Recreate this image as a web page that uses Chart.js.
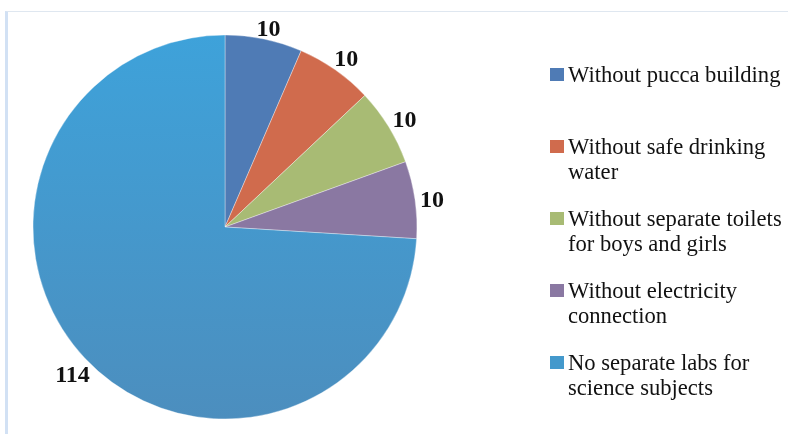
<!DOCTYPE html>
<html>
<head>
<meta charset="utf-8">
<script src="https://cdn.jsdelivr.net/npm/chart.js@4"></script>
<style>
    html, body {
        margin: 0;
        padding: 0;
        background: #ffffff;
    }
    #wrap {
        position: relative;
        width: 788px;
        height: 434px;
        overflow: hidden;
    }
    #frame {
        position: absolute;
        left: 5px;
        top: 11px;
        width: 783px;
        height: 430px;
        border-left: 3px solid #d2e1f4;
        border-top: 1px solid #dfe7f0;
        box-sizing: border-box;
    }
    #schoolPie {
        position: absolute;
        left: 0;
        top: 0;
    }
    #legendBox {
        position: absolute;
        left: 550px;
        top: 62px;
        font-family: "Liberation Serif", "Times New Roman", serif;
        font-size: 22.6px;
        color: #111111;
    }
    .legendItem {
        position: relative;
        height: 72px;
        padding-left: 18px;
        line-height: 25px;
        white-space: nowrap;
    }
    .legendSwatch {
        position: absolute;
        left: 0;
        top: 6px;
        width: 14px;
        height: 13px;
    }
</style>
</head>
<body>
<div id="wrap">
    <div id="frame"></div>
    <canvas id="schoolPie" width="788" height="434"></canvas>
    <div id="legendBox"></div>
</div>
<script>
// Chart data
const categories = [
    ['Without pucca building'],
    ['Without safe drinking', 'water'],
    ['Without separate toilets', 'for boys and girls'],
    ['Without electricity', 'connection'],
    ['No separate labs for', 'science subjects']
];
const schoolCounts = [10, 10, 10, 10, 114];
const sliceColors = ['#4F7BB5', '#D06B4D', '#A8BB74', '#8A78A2', '#4499CC'];


/* Kicks off processes to build the chart
*/
const init = () => {
    buildLegend();
    buildSchoolPie();
}


/* Builds the html legend on the right
*/
const buildLegend = () => {
    let box = document.getElementById('legendBox');
    categories.forEach((lines, i) => {
        let item = document.createElement('div');
        item.className = 'legendItem';
        let swatch = document.createElement('span');
        swatch.className = 'legendSwatch';
        swatch.style.background = sliceColors[i];
        item.appendChild(swatch);
        lines.forEach((line, j) => {
            if (j > 0) item.appendChild(document.createElement('br'));
            item.appendChild(document.createTextNode(line));
        });
        box.appendChild(item);
    });
}


// draws the value labels just outside each slice
const outsideLabels = {
    id: 'outsideLabels',
    afterDatasetsDraw(chart) {
        const ctx = chart.ctx;
        const meta = chart.getDatasetMeta(0);
        ctx.save();
        ctx.font = 'bold 24px "Liberation Serif", serif';
        ctx.fillStyle = '#111111';
        ctx.textAlign = 'center';
        ctx.textBaseline = 'middle';
        meta.data.forEach((arc, i) => {
            const p = arc.getProps(['x', 'y', 'startAngle', 'endAngle', 'outerRadius'], true);
            const mid = (p.startAngle + p.endAngle) / 2;
            const text = String(chart.data.datasets[0].data[i]);
            const w = ctx.measureText(text).width;
            const dist = p.outerRadius + 2 + Math.abs(Math.cos(mid)) * w / 2 + Math.abs(Math.sin(mid)) * 8;
            ctx.fillText(text, p.x + Math.cos(mid) * dist + 2, p.y + Math.sin(mid) * dist + 3);
        });
        ctx.restore();
    }
};


/* Builds the pie
*/
const buildSchoolPie = () => {

    // big slice gets a soft vertical shade, the rest are flat
    const sliceFill = (c) => {
        const i = c.dataIndex;
        if (i !== 4 || !c.chart.chartArea) return sliceColors[i];
        const g = c.chart.ctx.createLinearGradient(0, 35, 0, 420);
        g.addColorStop(0, '#3EA2DA');
        g.addColorStop(1, '#4C8EBE');
        return g;
    };

    const data = {
        labels: categories,
        datasets: [{
            label: 'Schools',
            data: schoolCounts,
            backgroundColor: sliceFill,
            borderColor: 'rgba(255,255,255,0.35)',
            borderWidth: 1
        }]
    };

    const config = {
        type: 'pie',
        data: data,
        options: {
            responsive: false,
            animation: false,
            radius: 192,
            layout: {
                padding: { left: 20, right: 358, top: 30, bottom: 10 }
            },
            plugins: {
                legend: { display: false },
                tooltip: { enabled: false }
            }
        },
        plugins: [outsideLabels]
    };

    const ctx = document.getElementById('schoolPie').getContext('2d');
    const schoolPie = new Chart(ctx, config);
}

document.addEventListener("DOMContentLoaded", () => {
    init();
});
</script>
</body>
</html>
